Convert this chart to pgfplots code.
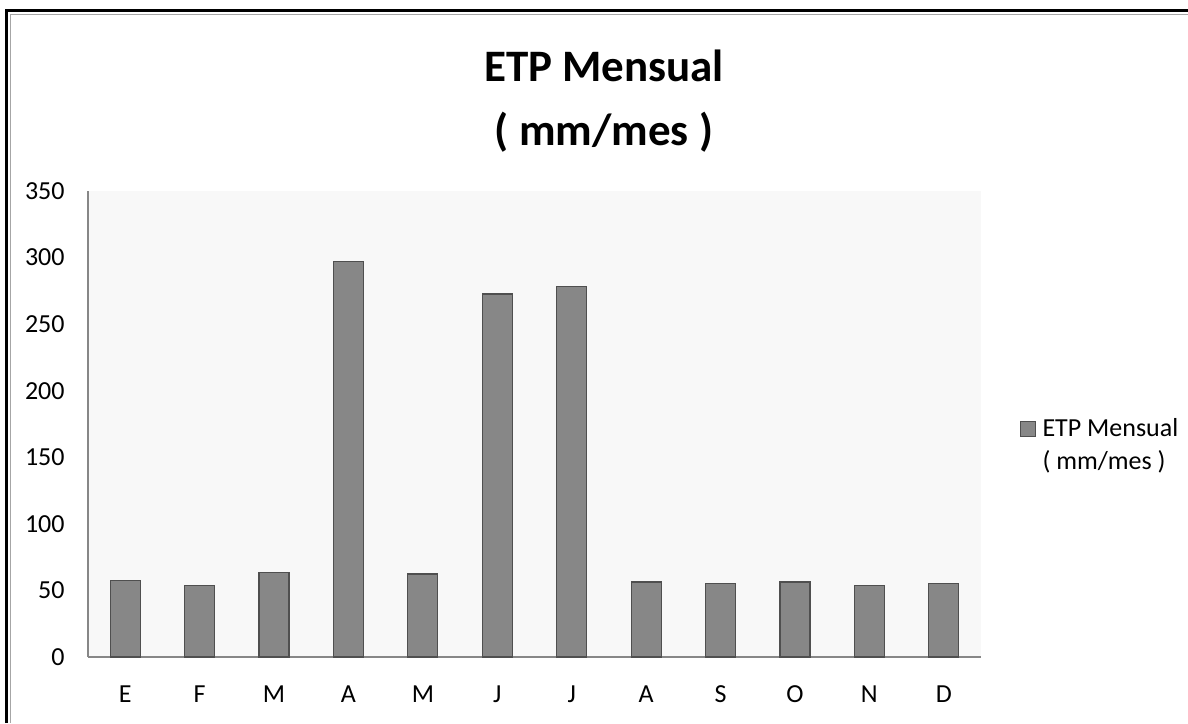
\documentclass[border=0pt]{standalone}
\usepackage{pgfplots}
\pgfplotsset{compat=1.18}
\usepackage{fontspec}
\setmainfont{Carlito}
\definecolor{barfill}{HTML}{878787}
\definecolor{bardraw}{HTML}{4F4F4F}
\definecolor{plotbg}{HTML}{F8F8F8}
\definecolor{axgray}{HTML}{878787}
\begin{document}
\begin{tikzpicture}[x=0.5pt,y=0.5pt]
\path[use as bounding box] (0,0) rectangle (1188,723);
\fill[white] (0,0) rectangle (1188,723);
% frame (left and top)
\draw[black,line width=1.5pt] (6.5,0) -- (6.5,712) -- (1188,712);
\draw[gray!70,line width=0.6pt] (10.5,0) -- (10.5,708.5) -- (1188,708.5);
% title
\node[anchor=base,font=\fontsize{22.5}{27}\selectfont\bfseries] at (604,641) {ETP Mensual};
\node[anchor=base,font=\fontsize{22.5}{27}\selectfont\bfseries] at (604,577) {( mm/mes )};
\begin{axis}[
  at={(44pt,33pt)}, anchor=south west,
  scale only axis, width=446.5pt, height=233pt,
  ymin=0, ymax=350, ytick={0,50,...,350},
  xmin=-0.5, xmax=11.5,
  xtick={0,...,11},
  xticklabels={E,F,M,A,M,J,J,A,S,O,N,D},
  axis background/.style={fill=plotbg},
  axis x line*=bottom, axis y line*=left,
  axis line style={axgray, line width=0.6pt},
  x axis line style={-}, y axis line style={-},
  major tick length=0pt,
  tick style={draw=none},
  /pgf/number format/assume math mode=true,
  ticklabel style={font=\fontsize{13}{15}\selectfont, inner sep=0pt},
  yticklabel style={anchor=east, xshift=-11.5pt},
  xticklabel style={anchor=base, yshift=-22.5pt},
  ybar, bar width=15pt,
  legend style={draw=none, fill=none, at={(1.0437,0.517)}, anchor=north west,
    inner sep=0pt, font=\fontsize{13}{16.5}\selectfont,
    nodes={inner sep=1pt}},
  legend cell align=left,
  legend image code/.code={\draw[fill=barfill,draw=bardraw,line width=0.5pt] (0pt,-3.75pt) rectangle (7.5pt,3.75pt); \path (9.5pt,0pt);},
]
\addplot[fill=barfill, draw=bardraw, line width=0.6pt] coordinates {
 (0,57.3) (1,53.6) (2,63.3) (3,296.8) (4,62.4) (5,272.7)
 (6,278) (7,56.3) (8,55.4) (9,56.3) (10,53.6) (11,55.4)};
\addlegendentry{\rlap{\raisebox{-16.5pt}[0pt][0pt]{( mm/mes )}}ETP Mensual}
\end{axis}
\end{tikzpicture}
\end{document}
